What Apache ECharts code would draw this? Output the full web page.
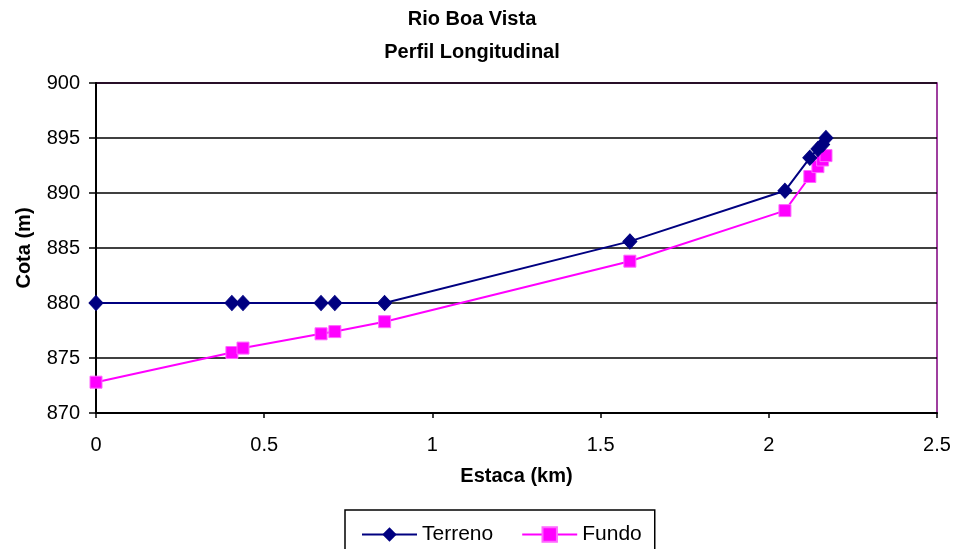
<!DOCTYPE html>
<html>
<head>
<meta charset="utf-8">
<script src="https://cdn.jsdelivr.net/npm/echarts@6/dist/echarts.min.js"></script>
<style>
  html, body { margin: 0; padding: 0; background: #fff; }
  #chart { width: 954px; height: 549px; }
</style>
</head>
<body>
<div id="chart"></div>
<script>
// Longitudinal profile of Rio Boa Vista: ground level and river bed along the chainage
const estacaKm = [0, 0.404, 0.437, 0.669, 0.71, 0.858, 1.587, 2.048, 2.122, 2.146, 2.16, 2.17];
const terreno  = [880, 880, 880, 880, 880, 880, 885.6, 890.2, 893.2, 894.0, 894.4, 895.0];
const fundo    = [872.8, 875.5, 875.9, 877.2, 877.4, 878.3, 883.8, 888.4, 891.5, 892.4, 893.0, 893.4];

const pairs = (xs, ys) => xs.map((x, i) => [x, ys[i]]);

const FONT = 'Liberation Sans, Arial, sans-serif';

const chart = echarts.init(document.getElementById('chart'), null, { renderer: 'canvas' });

chart.setOption({
  backgroundColor: '#ffffff',
  animation: false,
  title: [
    {
      text: 'Rio Boa Vista',
      left: 467, top: 4, textAlign: 'center',
      textStyle: { fontFamily: FONT, fontSize: 20, fontWeight: 'bold', color: '#000' }
    },
    {
      text: 'Perfil Longitudinal',
      left: 467, top: 37, textAlign: 'center',
      textStyle: { fontFamily: FONT, fontSize: 20, fontWeight: 'bold', color: '#000' }
    }
  ],
  grid: {
    left: 96, right: 17, top: 83, bottom: 136,
    show: true, borderColor: '#800080', borderWidth: 1.5, backgroundColor: '#fff'
  },
  legend: {
    left: 345, top: 510,
    padding: [14, 13, 14, 16],
    borderColor: '#000', borderWidth: 1.5,
    itemWidth: 55, itemHeight: 18, itemGap: 28,
    textStyle: { fontFamily: FONT, fontSize: 21, color: '#000' },
    data: ['Terreno', 'Fundo']
  },
  xAxis: {
    type: 'value', min: 0, max: 2.5, interval: 0.5,
    name: 'Estaca (km)', nameLocation: 'middle', nameGap: 53, nameMoveOverlap: false,
    nameTextStyle: { fontFamily: FONT, fontSize: 20, fontWeight: 'bold', color: '#000' },
    axisLine: { show: true, onZero: false, lineStyle: { color: '#000', width: 2 } },
    axisTick: { show: true, length: 5, lineStyle: { color: '#000', width: 1.5 } },
    axisLabel: { fontFamily: FONT, fontSize: 20, color: '#000', margin: 22 },
    splitLine: { show: false }
  },
  yAxis: {
    type: 'value', min: 870, max: 900, interval: 5,
    name: 'Cota (m)', nameLocation: 'middle', nameGap: 62, nameRotate: 90, nameMoveOverlap: false,
    nameTextStyle: { fontFamily: FONT, fontSize: 20, fontWeight: 'bold', color: '#000' },
    axisLine: { show: true, lineStyle: { color: '#000', width: 2 } },
    axisTick: { show: true, length: 7, lineStyle: { color: '#000', width: 1.5 } },
    axisLabel: { fontFamily: FONT, fontSize: 20, color: '#000', margin: 16 },
    splitLine: { show: true, lineStyle: { color: '#000', width: 1.5 } }
  },
  series: [
    {
      name: 'Terreno', type: 'line',
      data: pairs(estacaKm, terreno),
      symbol: 'diamond', symbolSize: [14, 15],
      lineStyle: { color: '#000080', width: 2 },
      itemStyle: { color: '#000080', borderColor: '#000080' },
      z: 3
    },
    {
      name: 'Fundo', type: 'line',
      data: pairs(estacaKm, fundo),
      symbol: 'rect', symbolSize: 12,
      lineStyle: { color: '#ff00ff', width: 2 },
      itemStyle: { color: '#ff00ff', borderColor: '#ff66ff', borderWidth: 1 },
      z: 2
    }
  ]
});
</script>
</body>
</html>
